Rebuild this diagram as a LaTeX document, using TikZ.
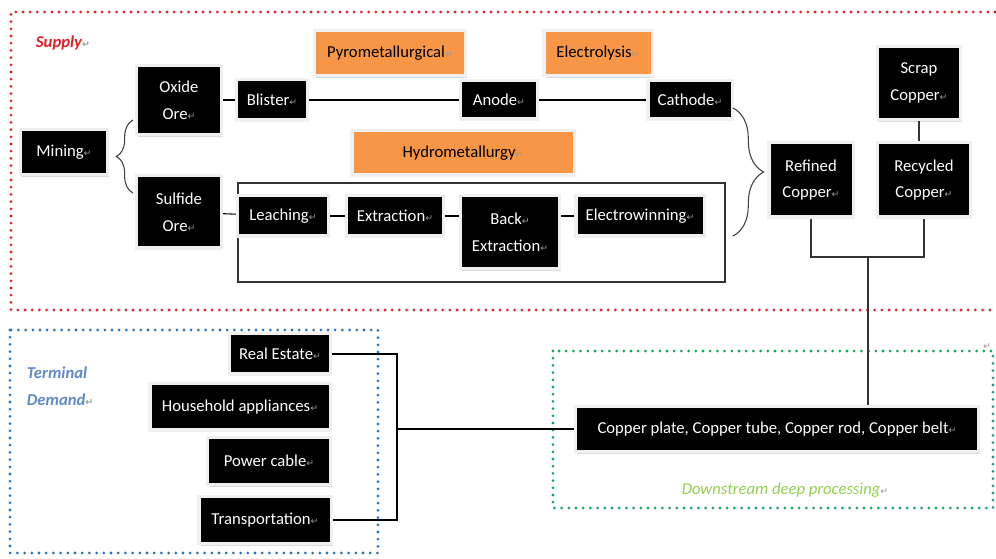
\documentclass[tikz,border=0pt]{standalone}
\usepackage{fontspec}
\setmainfont{Carlito}
\newfontfamily\markfont{DejaVu Sans}
\usetikzlibrary{shadows,decorations.pathreplacing}
\definecolor{supplyred}{RGB}{222,32,40}
\definecolor{demandblue}{RGB}{40,116,184}
\definecolor{demandtext}{RGB}{96,138,200}
\definecolor{procgreen}{RGB}{20,165,95}
\definecolor{proctext}{RGB}{146,208,80}
\definecolor{orangebox}{RGB}{247,150,70}
\newcommand{\pmark}{{\markfont\fontsize{7}{7}\selectfont\textcolor{black!40}{↵}}}
\tikzset{
  blk/.style={fill=black, text=white, draw=black!6, line width=2.4pt,
    drop shadow={shadow xshift=1.2pt, shadow yshift=-1.8pt, fill=black!28},
    align=center, inner sep=0pt, font=\fontsize{12.5}{20}\selectfont},
  org/.style={blk, fill=orangebox, text=black},
  sz/.style 2 args={minimum width=#1*0.75pt+2.4pt, minimum height=#2*0.75pt+2.4pt},
  frm/.style={line width=2.3pt, dash pattern=on 0pt off 5.4pt, line cap=round},
  brc/.style={decorate, line width=0.8pt, black!75},
}
\begin{document}
\begin{tikzpicture}[x=0.75pt,y=0.75pt,yscale=-1,xscale=1,line width=0.8pt]
\useasboundingbox (0,0) rectangle (996,559);

% Frames
\draw[frm, supplyred] (995,12) -- (11,12) -- (11,310) -- (995,310);
\draw[frm, demandblue] (10,330) rectangle (378,553);
\draw[frm, procgreen] (553,351) rectangle (993,508);

% Frame titles
\node[anchor=west, text=supplyred, font=\bfseries\itshape\fontsize{12.5}{14}\selectfont] (supply) at (31,43) {Supply\pmark};
\node[anchor=north west, align=left, text=demandtext, font=\bfseries\itshape\fontsize{12.5}{20}\selectfont] (demand) at (22,362) {Terminal\\Demand\pmark};
\node[text=proctext, font=\itshape\fontsize{12.5}{14}\selectfont] (downstream) at (785,490) {Downstream deep processing\pmark};
\node[inner sep=0pt] (lonemark) at (987,347) {\pmark};

% Supply side
\node[blk, sz={84}{42}] (mining) at (64,152) {Mining\pmark};
\node[blk, sz={82}{66}] (oxide) at (179,100) {Oxide\\Ore\pmark};
\node[blk, sz={82}{69}] (sulfide) at (179,212) {Sulfide\\Ore\pmark};
\node[blk, sz={68}{37}] (blister) at (272,100) {Blister\pmark};
\node[blk, sz={74}{35}] (anode) at (499,100) {Anode\pmark};
\node[blk, sz={81}{35}] (cathode) at (690,100) {Cathode\pmark};
\node[org, sz={148}{42}] (pyro) at (390,53) {Pyrometallurgical\pmark};
\node[org, sz={105}{42}] (electrolysis) at (598,53) {Electrolysis\pmark};
\node[org, sz={219}{41}] (hydro) at (463,153) {Hydrometallurgy\pmark};

% Hydrometallurgy route
\draw[black!80] (238,183) rectangle (725,282);
\node[blk, sz={88}{37}] (leaching) at (283,216) {Leaching\pmark};
\node[blk, sz={94}{37}] (extraction) at (395,216) {Extraction\pmark};
\node[blk, sz={96}{70}] (backext) at (510,232) {Back\pmark\\Extraction\pmark};
\node[blk, sz={125}{37}] (ewin) at (640,216) {Electrowinning\pmark};

\node[blk, sz={81}{71}] (refined) at (811,180) {Refined\\Copper\pmark};
\node[blk, sz={90}{71}] (recycled) at (924,180) {Recycled\\Copper\pmark};
\node[blk, sz={80}{70}] (scrap) at (919,83) {Scrap\\Copper\pmark};

% Downstream
\node[blk, sz={400}{42}] (plate) at (777,429) {Copper plate, Copper tube, Copper rod, Copper belt\pmark};

% Terminal demand
\node[blk, sz={98}{37}] (estate) at (280,354) {Real Estate\pmark};
\node[blk, sz={177}{43}] (household) at (240,407) {Household appliances\pmark};
\node[blk, sz={120}{43}] (cable) at (269,461) {Power cable\pmark};
\node[blk, sz={129}{44}] (transport) at (265,520) {Transportation\pmark};

% Connectors
\draw (oxide) -- (blister);
\draw (blister) -- (anode);
\draw (anode) -- (cathode);
\draw (sulfide) -- (leaching);
\draw (leaching) -- (extraction);
\draw (extraction.east) -- (extraction.east -| backext.west);
\draw (ewin.west) -- (ewin.west -| backext.east);
\draw[black!80] (scrap.south) -- (scrap.south |- recycled.north);

% Braces
\coordinate (mb1) at (133,193);
\coordinate (mb2) at (133,120);
\draw[brc, decoration={brace, amplitude=12.5pt}] (mb1) -- (mb2);
\coordinate (cb1) at (733,108);
\coordinate (cb2) at (733,236);
\draw[brc, decoration={brace, amplitude=23pt}] (cb1) -- (cb2);

% Refined + recycled to downstream
\coordinate (cj) at (868,257);
\draw[black!80] (refined.south) |- (cj) -| (recycled.south);
\draw[black!80] (cj) -- (cj |- plate.north);

% Downstream to demand
\coordinate (dj) at (397,429);
\draw (estate.east) -| (dj) |- (transport.east);
\draw (dj) -- (plate.west);

\end{tikzpicture}
\end{document}
